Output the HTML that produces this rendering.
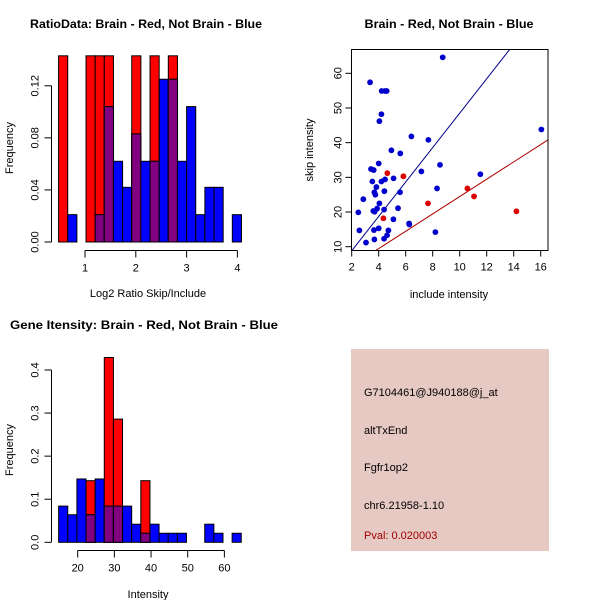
<!DOCTYPE html>
<html><head><meta charset="utf-8"><style>
body{margin:0;background:#fff}
svg{display:block;font-family:"Liberation Sans",Arial,sans-serif}
</style></head><body>
<svg id="s" width="600" height="600" viewBox="0 0 600 600">
<rect width="600" height="600" fill="#fff"/>
<g id="h1"></g>
<g id="sc"></g>
<g id="h2"></g>
<g>
<rect x="351" y="349" width="198" height="202" fill="#e6c9c3"/>
<text x="364" y="396" font-size="11">G7104461@J940188@j_at</text>
<text x="364" y="434" font-size="11">altTxEnd</text>
<text x="364" y="471" font-size="11">Fgfr1op2</text>
<text x="364" y="509" font-size="11">chr6.21958-1.10</text>
<text x="364" y="539" font-size="11" fill="#a00000">Pval: 0.020003</text>
</g>
</svg>
<script>
// ---- data: ratio histogram ----
const h1Start = 0.48, h1Width = 0.18;
const h1Red  = [0.143,0,0,0.143,0.143,0.143,0,0,0.143,0,0.143,0,0.143,0,0,0,0,0,0,0];
const h1Blue = [0,0.021,0,0,0.021,0.104,0.062,0.042,0.083,0.062,0.062,0.125,0.125,0.062,0.104,0.021,0.042,0.042,0,0.021];
const h1YTicks = [0,0.04,0.08,0.12];
const h1YLabels = ["0.00","0.04","0.08","0.12"];
const h1XTicks = [1,2,3,4];
// ---- data: intensity histogram ----
const h2Start = 14.8, h2Width = 2.49;
const h2Red  = [0,0,0,0.143,0,0.429,0.286,0,0,0.143,0,0,0,0,0,0,0,0,0,0];
const h2Blue = [0.084,0.064,0.147,0.064,0.147,0.084,0.084,0.084,0.042,0.021,0.042,0.021,0.021,0.021,0,0,0.042,0.021,0,0.021];
const h2YTicks = [0,0.1,0.2,0.3,0.4];
const h2YLabels = ["0.0","0.1","0.2","0.3","0.4"];
const h2XTicks = [20,30,40,50,60];
// ---- data: scatter ----
const blueX = [8.74,3.36,4.22,4.47,4.59,4.2,4.05,16.05,6.42,7.68,4.94,5.6,4.0,8.54,3.43,3.63,7.16,11.53,5.1,4.47,3.53,4.2,3.83,8.32,3.68,3.75,4.42,5.58,2.86,4.05,5.43,3.88,3.7,3.6,4.4,2.49,5.09,6.25,6.27,2.57,3.65,4.0,4.72,4.62,4.4,3.68,3.06,8.2];
const blueY = [64.6,57.4,54.9,54.9,54.9,48.2,46.2,43.8,41.8,40.8,37.8,36.9,34.0,33.6,32.4,32.1,31.7,30.9,29.7,29.4,28.8,28.8,27.2,26.8,25.7,25.0,26.0,25.7,23.7,22.5,21.1,21.0,20.1,20.3,20.7,19.9,17.9,16.7,16.4,14.7,14.8,15.3,14.7,13.3,12.3,12.1,11.2,14.2];
const redX = [4.64,5.83,4.35,7.65,10.57,11.06,14.2];
const redY = [31.2,30.3,18.2,22.5,26.8,24.5,20.2];
const blueFit = [-1.1,4.96]; // intercept, slope
const redFit = [-0.54,2.5];
const scXTicks = [2,4,6,8,10,12,14,16];
const scYTicks = [10,20,30,40,50,60];

const NS="http://www.w3.org/2000/svg";
function mk(parent,tag,attrs,txt){const e=document.createElementNS(NS,tag);for(const k in attrs)e.setAttribute(k,attrs[k]);if(txt!=null)e.textContent=txt;parent.appendChild(e);return e;}

function hist(g,start,w,red,blue,xs,ys,yt,yl,xt,opt){
  for(let i=0;i<red.length;i++){
    const x0=xs(start+i*w),x1=xs(start+(i+1)*w);
    const r=red[i],b=blue[i];
    if(r>0){const e=mk(g,'rect',{x:x0,y:ys(r),width:x1-x0,height:ys(0)-ys(r),fill:'#ff0000',stroke:'#000','stroke-width':1});
      
      }
    if(b>0){const e=mk(g,'rect',{x:x0,y:ys(b),width:x1-x0,height:ys(0)-ys(b),fill:'#0000ff',stroke:'#000','stroke-width':1});
      
      }
    const m=Math.min(r,b);
    if(m>0){const e=mk(g,'rect',{x:x0,y:ys(m),width:x1-x0,height:ys(0)-ys(m),fill:'#800080',stroke:'#000','stroke-width':1});
      
      }
  }
  const ya=mk(g,'g',{});
  
  
  mk(ya,'line',{x1:opt.ax,x2:opt.ax,y1:ys(yt[0]),y2:ys(yt[yt.length-1]),stroke:'#000'});
  yt.forEach((v,i)=>{mk(ya,'line',{x1:opt.ax-7,x2:opt.ax,y1:ys(v),y2:ys(v),stroke:'#000'});
    const t=mk(ya,'text',{x:opt.ax-13,y:ys(v),'font-size':11,'text-anchor':'middle',transform:`rotate(-90 ${opt.ax-13} ${ys(v)})`},yl[i]);
    
    });
  const xa=mk(g,'g',{});
  
  
  mk(xa,'line',{x1:xs(xt[0]),x2:xs(xt[xt.length-1]),y1:opt.ay,y2:opt.ay,stroke:'#000'});
  xt.forEach(v=>{mk(xa,'line',{x1:xs(v),x2:xs(v),y1:opt.ay,y2:opt.ay+7,stroke:'#000'});
    const t=mk(xa,'text',{x:xs(v),y:opt.ay+21,'font-size':11,'text-anchor':'middle'},String(v));
    
    });
}

// Histogram 1
{
  const g=document.getElementById('h1');
  const xs=v=>85+(v-1)*50.8, ys=v=>242-v*1302;
  hist(g,h1Start,h1Width,h1Red,h1Blue,xs,ys,h1YTicks,h1YLabels,h1XTicks,{ax:51.5,ay:250.5});
  let t=mk(g,'text',{x:30,y:28,'font-size':12,'font-weight':'bold',textLength:232,lengthAdjust:'spacingAndGlyphs'},'RatioData: Brain - Red, Not Brain - Blue');
  
  
  t=mk(g,'text',{x:148,y:297,'font-size':11,'text-anchor':'middle'},'Log2 Ratio Skip/Include');
  
  
  t=mk(g,'text',{x:13,y:148,'font-size':11,'text-anchor':'middle',transform:'rotate(-90 13 148)'},'Frequency');
  
  
}
// Histogram 2
{
  const g=document.getElementById('h2');
  const xs=v=>77.7+(v-20)*3.667, ys=v=>542.3-v*430.8;
  hist(g,h2Start,h2Width,h2Red,h2Blue,xs,ys,h2YTicks,h2YLabels,h2XTicks,{ax:51.5,ay:550.5});
  let t=mk(g,'text',{x:10,y:329,'font-size':12,'font-weight':'bold',textLength:268,lengthAdjust:'spacingAndGlyphs'},'Gene Itensity: Brain - Red, Not Brain - Blue');
  
  
  t=mk(g,'text',{x:148,y:598,'font-size':11,'text-anchor':'middle'},'Intensity');
  
  
  t=mk(g,'text',{x:13,y:450,'font-size':11,'text-anchor':'middle',transform:'rotate(-90 13 450)'},'Frequency');
  
  
}
// Scatter
{
  const g=document.getElementById('sc');
  const L=351.5,R=548,T=49.5,B=250.5;
  const xs=v=>351.7+(v-2)*13.5, ys=v=>246.7-(v-10)*3.468;
  mk(g,'defs',{}).innerHTML='<clipPath id="cp"><rect x="'+L+'" y="'+T+'" width="'+(R-L)+'" height="'+(B-T)+'"/></clipPath>';
  const fits=[[blueFit,'#00008b','blue-fit-line'],[redFit,'#b00000','red-fit-line']];
  fits.forEach(([f,c,n])=>{const x0=0,x1=20;
    const e=mk(g,'line',{x1:xs(x0),y1:ys(f[0]+f[1]*x0),x2:xs(x1),y2:ys(f[0]+f[1]*x1),stroke:c,'stroke-width':1,'clip-path':'url(#cp)'});
    
    });
  blueX.forEach((x,i)=>{const e=mk(g,'circle',{cx:xs(x),cy:ys(blueY[i]),r:2.9,fill:'#0000cc'});
    
    });
  redX.forEach((x,i)=>{const e=mk(g,'circle',{cx:xs(x),cy:ys(redY[i]),r:2.9,fill:'#dd0000'});
    
    });
  const box=mk(g,'rect',{x:L,y:T,width:R-L,height:B-T,fill:'none',stroke:'#000'});
  
  
  scXTicks.forEach(v=>{mk(g,'line',{x1:xs(v),x2:xs(v),y1:B,y2:B+6,stroke:'#000'});
    const t=mk(g,'text',{x:xs(v),y:B+20,'font-size':11,'text-anchor':'middle'},String(v));
    
    });
  scYTicks.forEach(v=>{mk(g,'line',{x1:L-6,x2:L,y1:ys(v),y2:ys(v),stroke:'#000'});
    const t=mk(g,'text',{x:L-10,y:ys(v),'font-size':11,'text-anchor':'middle',transform:`rotate(-90 ${L-10} ${ys(v)})`},String(v));
    
    });
  let t=mk(g,'text',{x:449,y:28,'font-size':12,'font-weight':'bold','text-anchor':'middle',textLength:169,lengthAdjust:'spacingAndGlyphs'},'Brain - Red, Not Brain - Blue');
  
  
  t=mk(g,'text',{x:449,y:298,'font-size':11,'text-anchor':'middle'},'include intensity');
  
  
  t=mk(g,'text',{x:313,y:150,'font-size':11,'text-anchor':'middle',transform:'rotate(-90 313 150)'},'skip intensity');
  
  
}
</script>
</body></html>
